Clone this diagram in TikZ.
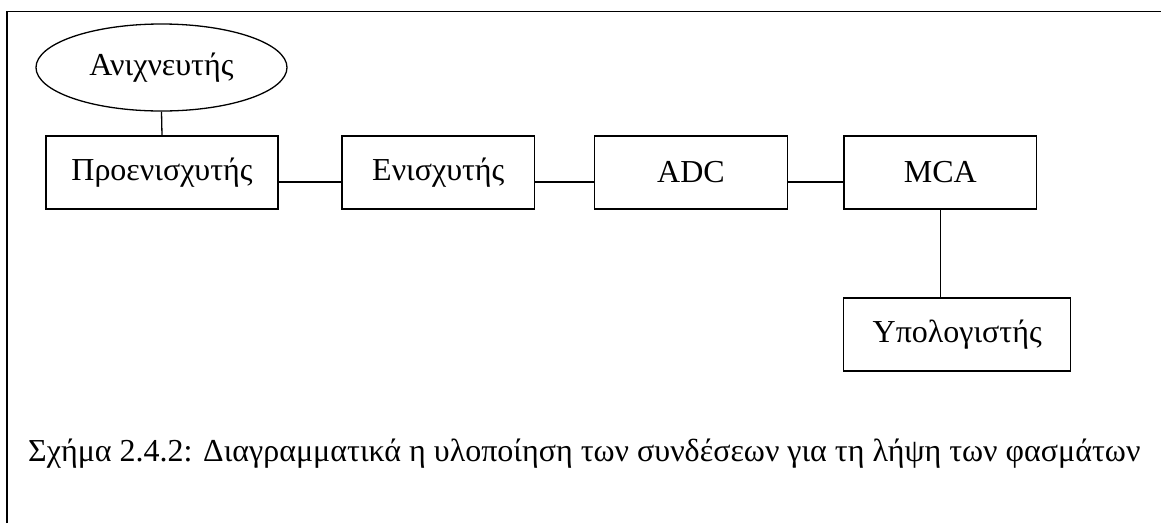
\documentclass[tikz,border=0pt]{standalone}
\usepackage{fontspec}
\setmainfont{Liberation Serif}
\usetikzlibrary{shapes.geometric}
\begin{document}
\begin{tikzpicture}[x=1pt,y=-1pt,
  txt/.style={font=\fontsize{32}{36}\selectfont},
  blk/.style={draw,line width=1.3pt,rectangle,minimum height=73pt,inner sep=0pt,txt},
  conn/.style={line width=1.3pt},
  frameline/.style={line width=1.5pt}]
\useasboundingbox (0,0) rectangle (1161,523);
\coordinate (ftl) at (7,11.5);
\coordinate (ftr) at (1161,11.5);
\coordinate (fbl) at (7,523);
\draw[frameline] (fbl) -- (ftl) -- (ftr);
\node[draw,line width=1.3pt,ellipse,minimum width=251pt,minimum height=87pt,inner sep=0pt,txt] (ani) at (161.5,67.5) {Ανιχνευτής};
\node[blk,minimum width=232pt] (pre) at (162,172.5) {Προενισχυτής};
\node[blk,minimum width=192.6pt] (eni) at (438.3,172.5) {Ενισχυτής};
\node[blk,minimum width=192.6pt] (adc) at (691,172.5) {ADC};
\node[blk,minimum width=192.7pt] (mca) at (940.3,172.5) {MCA};
\node[blk,minimum width=227pt] (ypo) at (957.2,334.5) {Υπολογιστής};
\draw[conn] (ani.south) -- (pre.north);
\draw[conn] ([yshift=-9.5pt]pre.east) -- ([yshift=-9.5pt]eni.west);
\draw[conn] ([yshift=-9.5pt]eni.east) -- ([yshift=-9.5pt]adc.west);
\draw[conn] ([yshift=-9.5pt]adc.east) -- ([yshift=-9.5pt]mca.west);
\draw[conn] (mca.south) -- (mca.south |- ypo.north);
\node[anchor=base west,inner sep=0pt,txt] (cap) at (28,461) {Σχήμα 2.4.2: Διαγραμματικά η υλοποίηση των συνδέσεων για τη λήψη των φασμάτων};
\end{tikzpicture}
\end{document}
